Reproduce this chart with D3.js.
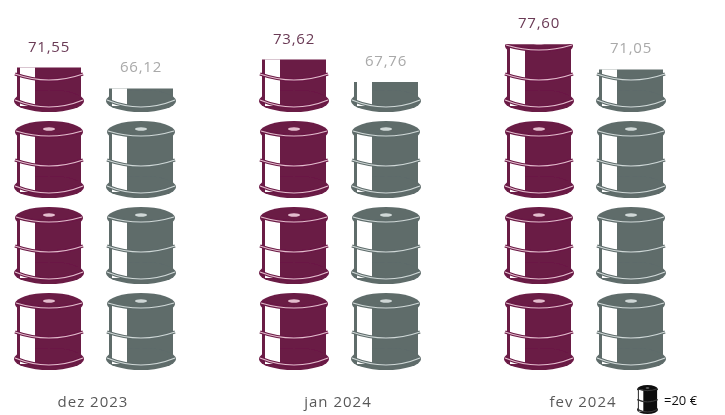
<!DOCTYPE html>
<html>
<head>
<meta charset="utf-8">
<script src="https://cdn.jsdelivr.net/npm/d3@7"></script>
<style>
  html, body { margin: 0; background: #fff; }
  text { font-family: "Open Sans", Lato, sans-serif; }
</style>
</head>
<body>
<div id="canvas"></div>
<script>
const months = ["dez 2023", "jan 2024", "fev 2024"];
const series1 = [71.55, 73.62, 77.60];
const series2 = [66.12, 67.76, 71.05];
const unit = 20;

const width = 725;
const height = 415;
const barrelW = 70;
const barrelH = 77;
const pitch = 86;
const base = 370;

const svg = d3.select("#canvas").append("svg")
    .attr("width", width)
    .attr("height", height)
    .style("display", "block");

const defs = svg.append("defs");
defs.append("filter").attr("id", "soft")
    .append("feGaussianBlur").attr("stdDeviation", 0.5);

// one barrel, drawn in a 70x77 box
function barrel(g, color, light) {
    // lid, body and bottom rim
    g.append("ellipse").attr("cx", 35).attr("cy", 11).attr("rx", 34).attr("ry", 11).attr("fill", color);
    g.append("rect").attr("x", 3).attr("y", 11).attr("width", 64).attr("height", 55).attr("fill", color);
    g.append("ellipse").attr("cx", 35).attr("cy", 66).attr("rx", 35).attr("ry", 11).attr("fill", color);
    // white panel
    g.append("rect").attr("x", 6).attr("y", 13).attr("width", 15).attr("height", 58).attr("fill", "#fff");
    // hoops
    const hoops = ["M2,10 Q35,20 68,10", "M1,39 Q35,51 69,39", "M1,65 Q35,79 69,65"];
    hoops.forEach(b => {
        g.append("path").attr("d", b).attr("fill", "none")
            .attr("stroke", color).attr("stroke-width", 3.4);
        g.append("path").attr("d", b).attr("fill", "none")
            .attr("stroke", light).attr("stroke-width", 1.2);
    });
    // bung on the lid
    g.append("ellipse").attr("cx", 35).attr("cy", 8).attr("rx", 6).attr("ry", 1.8).attr("fill", light);
}

const x0 = d3.scalePoint().domain(months).range([14, 504]);
const x1 = d3.scalePoint().domain([0, 1]).range([0, 92]);
const stackY = d3.scaleLinear().domain([0, 80]).range([base, base - 4 * pitch]);
const partH = d3.scaleLinear().domain([0, unit]).range([0, barrelH]);

const styles = [
    { color: "#6b1a45", light: "#e3bccd", label: "#6a3a55", values: series1 },
    { color: "#5e6c6b", light: "#d0d8d7", label: "#a9a9a9", values: series2 }
];

const chart = svg.append("g").attr("filter", "url(#soft)");

months.forEach((m, mi) => {
    styles.forEach((s, si) => {
        const v = s.values[mi];
        const whole = Math.floor(v / unit);
        const frac = v - whole * unit;
        const x = x0(m) + x1(si);
        d3.range(whole + 1).forEach(i => {
            const h = i < whole ? barrelH : partH(frac);
            const g = chart.append("g")
                .attr("transform", `translate(${x},${stackY(i * unit) - barrelH})`);
            if (i == whole) {
                const id = `clip-${mi}-${si}`;
                defs.append("clipPath").attr("id", id).append("rect")
                    .attr("x", -2).attr("y", barrelH - h)
                    .attr("width", barrelW + 4).attr("height", h + 2);
                g.attr("clip-path", `url(#${id})`);
            }
            barrel(g, s.color, s.light);
        });
        chart.append("text")
            .attr("x", x + barrelW / 2)
            .attr("y", stackY(whole * unit) - partH(frac) - 16)
            .attr("text-anchor", "middle")
            .attr("font-size", 15)
            .attr("letter-spacing", 0.8)
            .attr("fill", s.label)
            .text(v.toFixed(2).replace(".", ","));
    });
    chart.append("text")
        .attr("x", x0(m) + 79)
        .attr("y", 407)
        .attr("text-anchor", "middle")
        .attr("font-size", 15)
        .attr("letter-spacing", 1)
        .attr("fill", "#595959")
        .text(m);
});

// legend
const legend = chart.append("g").attr("transform", "translate(637,385) scale(0.3,0.375)");
barrel(legend, "#111", "#777");
chart.append("text").attr("x", 664).attr("y", 405)
    .attr("font-size", 13).attr("fill", "#111").text("=20 €");
</script>
</body>
</html>
